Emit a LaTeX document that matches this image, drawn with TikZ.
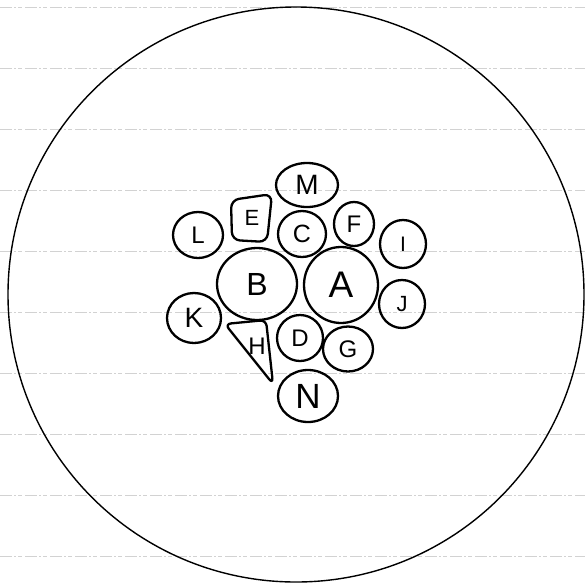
\documentclass[tikz,border=0pt]{standalone}
\usepackage{fontspec}
\setmainfont{Liberation Sans}
\usetikzlibrary{shapes.geometric}
\begin{document}
\begin{tikzpicture}[x=1pt,y=-1pt,
  ruled/.style={gray!35, line width=0.7pt, dash pattern=on 12pt off 2pt on 2pt off 2pt on 4pt off 3pt},
  cell/.style={ellipse, draw, line width=2.3pt, inner sep=0pt},
  blob/.style={draw, line width=2.3pt, line join=round},
  fs/.style={font=\fontsize{#1}{#1}\selectfont},
  lab/.style={inner sep=0pt},
  outline/.style={ellipse, draw, line width=1.4pt, inner sep=0pt}]
\useasboundingbox (0,0) rectangle (585,584);
\fill[white] (0,0) rectangle (585,584);
\foreach \yy in {7,68,...,560} \draw[ruled] (0,\yy) -- (585,\yy);
% outer dish
\node[outline, minimum width=576pt, minimum height=575pt] (dish) at (296,294.5) {};
% round cells
\node[cell, minimum width=62pt, minimum height=44pt, fs=28] (M) at (307,185) {M};
\node[cell, minimum width=48pt, minimum height=46pt, fs=25] (C) at (302,234) {C};
\node[cell, minimum width=40pt, minimum height=44pt, fs=24] (F) at (354,224) {F};
\node[cell, minimum width=50pt, minimum height=46pt, fs=24] (L) at (198,235) {L};
\node[cell, minimum width=46pt, minimum height=48pt, fs=21] (I) at (403,244) {I};
\node[cell, minimum width=80pt, minimum height=72pt, fs=32] (B) at (257,284) {B};
\node[cell, minimum width=74pt, minimum height=76pt, fs=37] (A) at (341,285) {A};
\node[cell, minimum width=54pt, minimum height=50pt, fs=28] (K) at (194,318) {K};
\node[cell, minimum width=46pt, minimum height=48pt, fs=22] (J) at (402,304) {J};
\node[cell, minimum width=46pt, minimum height=46pt, fs=24] (D) at (300,338) {D};
\node[cell, minimum width=50pt, minimum height=45pt, fs=24] (G) at (348,349) {G};
\node[cell, minimum width=60pt, minimum height=52pt, fs=35] (N) at (308,396) {N};
% irregular cells
\draw[blob, rounded corners=8pt] (231,200) -- (272,194) -- (267,242) -- (232,240) -- cycle;
\node[lab, fs=22] (E) at (252,218) {E};
\draw[blob, rounded corners=6pt] (225,324) -- (266,320) -- (273,384) -- cycle;
\node[lab, fs=24] (H) at (257,346) {H};
\end{tikzpicture}
\end{document}
